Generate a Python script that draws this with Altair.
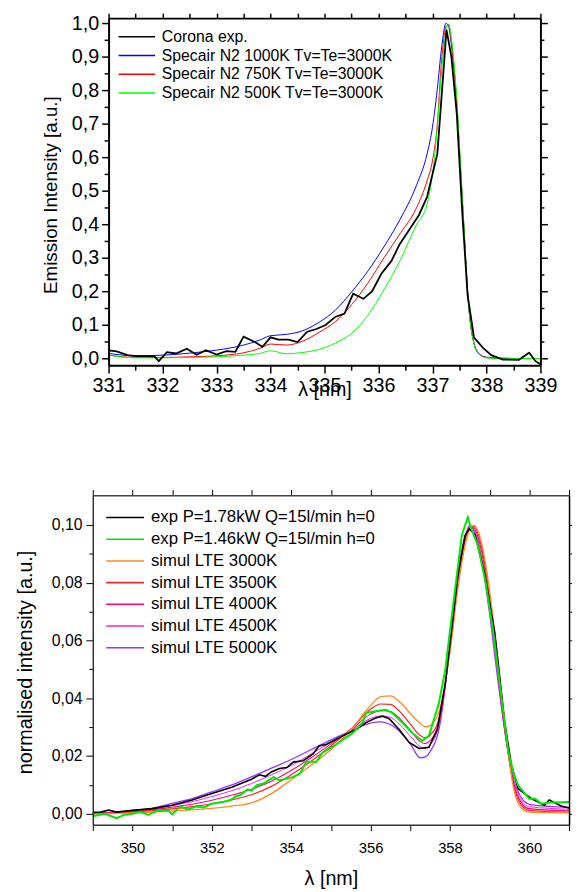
import altair as alt
import pandas as pd

FONT = "Liberation Sans"
W, H = 572, 884

# ---------------- top panel data ----------------
top_names = ["Corona exp.", "Specair N2 1000K Tv=Te=3000K",
             "Specair N2 750K Tv=Te=3000K", "Specair N2 500K Tv=Te=3000K"]
top_colors = ["#000000", "#0000ff", "#ff0000", "#00ff00"]
top_widths = [1.8, 1.0, 1.0, 1.0]

corona_x = [331.0, 331.15, 331.35, 331.5, 331.7, 331.85, 331.93, 332.08, 332.25, 332.45,
            332.63, 332.8, 333.0, 333.18, 333.35, 333.5, 333.7, 333.85, 334.0, 334.15,
            334.33, 334.5, 334.68, 334.85, 335.02, 335.2, 335.37, 335.53, 335.72, 335.88,
            336.05, 336.24, 336.39, 336.57, 336.75, 336.9, 337.09, 337.26, 337.35, 337.45,
            337.55, 337.65, 337.77, 337.94, 338.09, 338.3, 338.6, 338.79, 338.91, 339.0]
corona_y = [0.024, 0.021, 0.010, 0.007, 0.007, 0.006, -0.008, 0.019, 0.015, 0.029,
            0.011, 0.025, 0.012, 0.022, 0.020, 0.065, 0.050, 0.035, 0.063, 0.056,
            0.056, 0.049, 0.080, 0.088, 0.100, 0.124, 0.134, 0.193, 0.178, 0.200,
            0.252, 0.291, 0.340, 0.384, 0.428, 0.482, 0.610, 0.980, 0.900, 0.730,
            0.440, 0.190, 0.062, 0.031, 0.010, -0.003, -0.004, 0.017, -0.008, -0.017]

specair_x = [331.0, 331.5, 332.0, 332.5, 333.0, 333.5, 333.8, 334.0, 334.3, 334.6,
             334.9, 335.2, 335.5, 335.8, 336.1, 336.4, 336.7, 336.9, 337.0, 337.1,
             337.15, 337.2, 337.25, 337.3, 337.35, 337.4, 337.45, 337.5, 337.55, 337.6,
             337.65, 337.7, 337.75, 337.8, 337.9, 338.0, 338.2, 338.5, 339.0]
specair_1000 = [0.015, 0.008, 0.010, 0.016, 0.025, 0.040, 0.055, 0.068, 0.072, 0.083,
                0.108, 0.144, 0.198, 0.260, 0.333, 0.415, 0.515, 0.610, 0.690, 0.820,
                0.900, 0.965, 1.000, 0.990, 0.935, 0.860, 0.757, 0.620, 0.480, 0.340,
                0.200, 0.110, 0.060, 0.030, 0.010, 0.004, 0.001, 0.000, 0.000]
specair_750 = [0.010, 0.003, 0.003, 0.005, 0.008, 0.017, 0.030, 0.043, 0.040, 0.052,
               0.078, 0.110, 0.160, 0.224, 0.300, 0.372, 0.448, 0.530, 0.590, 0.720,
               0.850, 0.940, 0.990, 0.995, 0.945, 0.865, 0.762, 0.625, 0.482, 0.340,
               0.200, 0.110, 0.058, 0.028, 0.009, 0.003, 0.001, 0.000, 0.000]
specair_500 = [0.010, 0.002, 0.002, 0.003, 0.005, 0.010, 0.015, 0.023, 0.014, 0.018,
               0.027, 0.046, 0.075, 0.128, 0.205, 0.292, 0.398, 0.460, 0.550, 0.710,
               0.820, 0.910, 0.975, 0.998, 0.955, 0.880, 0.775, 0.635, 0.490, 0.345,
               0.200, 0.110, 0.058, 0.027, 0.008, 0.002, 0.000, 0.000, 0.000]

top_x_major = [331, 332, 333, 334, 335, 336, 337, 338, 339]
top_x_minor = [331.5, 332.5, 333.5, 334.5, 335.5, 336.5, 337.5, 338.5]
top_y_major = [0.0, 0.1, 0.2, 0.3, 0.4, 0.5, 0.6, 0.7, 0.8, 0.9, 1.0]
top_y_minor = [0.05, 0.15, 0.25, 0.35, 0.45, 0.55, 0.65, 0.75, 0.85, 0.95]

# ---------------- bottom panel data ----------------
bot_names = ["exp P=1.78kW Q=15l/min h=0", "exp P=1.46kW Q=15l/min h=0",
             "simul LTE 3000K", "simul LTE 3500K", "simul LTE 4000K",
             "simul LTE 4500K", "simul LTE 5000K"]
bot_colors = ["#000000", "#00e800", "#ff8a1e", "#f02828", "#ff0080", "#ee22ee", "#9933ff"]
bot_widths = [1.6, 2.0, 1.3, 1.2, 1.1, 1.0, 1.3]

exp178_x = [349.0, 349.2, 349.4, 349.6, 349.8, 350.0, 350.5, 351.0, 351.5, 352.0,
            352.5, 353.0, 353.2, 353.35, 353.5, 353.7, 353.89, 354.05, 354.3, 354.55,
            354.7, 354.88, 355.13, 355.38, 355.63, 355.88, 356.13, 356.3, 356.47, 356.72,
            356.97, 357.22, 357.47, 357.68, 357.88, 358.05, 358.2, 358.38, 358.49, 358.63,
            358.88, 359.13, 359.38, 359.55, 359.72, 360.05, 360.38, 360.5, 360.8, 361.0]
exp178_y = [0.0005, 0.0006, 0.0013, 0.0006, 0.0009, 0.0012, 0.0018, 0.0030, 0.0048, 0.0070,
            0.0092, 0.0120, 0.0135, 0.0130, 0.0145, 0.0157, 0.0160, 0.0179, 0.0184, 0.0207,
            0.0235, 0.0240, 0.0258, 0.0275, 0.0292, 0.0315, 0.0332, 0.0338, 0.0329, 0.0292,
            0.0247, 0.0226, 0.0230, 0.0292, 0.0450, 0.0645, 0.0827, 0.0963, 0.0986, 0.0966,
            0.0827, 0.0625, 0.0315, 0.0167, 0.0087, 0.0053, 0.0030, 0.0048, 0.0027, 0.0020]

exp146_x = [349.0, 349.3, 349.6, 349.8, 350.0, 350.2, 350.4, 350.6, 350.9, 351.0,
            351.2, 351.4, 351.6, 351.8, 352.0, 352.3, 352.47, 352.6, 352.72, 352.9,
            353.0, 353.13, 353.3, 353.55, 353.7, 353.89, 354.05, 354.22, 354.38, 354.63,
            354.8, 355.13, 355.55, 355.8, 355.88, 356.13, 356.38, 356.55, 356.8, 357.05,
            357.3, 357.47, 357.72, 357.88, 358.05, 358.3, 358.45, 358.51, 358.7, 358.9,
            359.1, 359.3, 359.47, 359.6, 359.72, 360.0, 360.15, 360.3, 360.55, 360.8, 361.0]
exp146_y = [-0.0008, 0.0000, -0.0015, -0.0003, 0.0000, 0.0007, -0.0004, 0.0010, 0.0012, -0.0002,
            0.0025, 0.0015, 0.0025, 0.0022, 0.0035, 0.0042, 0.0048, 0.0060, 0.0065, 0.0085,
            0.0080, 0.0099, 0.0105, 0.0127, 0.0116, 0.0122, 0.0128, 0.0139, 0.0180, 0.0180,
            0.0213, 0.0240, 0.0280, 0.0315, 0.0349, 0.0355, 0.0360, 0.0349, 0.0315, 0.0280,
            0.0253, 0.0270, 0.0383, 0.0497, 0.0690, 0.0966, 0.1026, 0.0997, 0.0930, 0.0800,
            0.0620, 0.0400, 0.0215, 0.0140, 0.0098, 0.0052, 0.0052, 0.0035, 0.0039, 0.0040, 0.0041]

sim_x = [349.0, 349.5, 350.0, 350.5, 351.0, 351.5, 352.0, 352.5, 353.0, 353.5,
         354.0, 354.5, 355.0, 355.5, 356.0, 356.25, 356.5, 356.75, 357.0, 357.25,
         357.375, 357.5, 357.75, 358.0, 358.2, 358.4, 358.5, 358.6, 358.8, 359.0,
         359.2, 359.4, 359.6, 359.8, 360.0, 360.5, 361.0]
sim_3000 = [0.0000, 0.0001, 0.0003, 0.0006, 0.0010, 0.0014, 0.0019, 0.0027, 0.0038, 0.0070,
            0.0118, 0.0168, 0.0222, 0.0290, 0.0375, 0.0405, 0.0408, 0.0385, 0.0347, 0.0313,
            0.0301, 0.0305, 0.0365, 0.0560, 0.0780, 0.0940, 0.0985, 0.0998, 0.0935, 0.0770,
            0.0540, 0.0290, 0.0090, 0.0020, 0.0006, 0.0004, 0.0003]
sim_3500 = [0.0001, 0.0003, 0.0006, 0.0011, 0.0017, 0.0025, 0.0035, 0.0048, 0.0066, 0.0095,
            0.0135, 0.0182, 0.0235, 0.0293, 0.0362, 0.0380, 0.0379, 0.0352, 0.0311, 0.0271,
            0.0263, 0.0272, 0.0342, 0.0570, 0.0800, 0.0955, 0.0990, 0.0995, 0.0920, 0.0750,
            0.0520, 0.0280, 0.0100, 0.0030, 0.0012, 0.0008, 0.0006]
sim_4000 = [0.0001, 0.0004, 0.0008, 0.0014, 0.0023, 0.0033, 0.0047, 0.0064, 0.0085, 0.0113,
            0.0150, 0.0194, 0.0242, 0.0290, 0.0345, 0.0358, 0.0354, 0.0328, 0.0289, 0.0250,
            0.0243, 0.0253, 0.0332, 0.0575, 0.0810, 0.0960, 0.0995, 0.0990, 0.0905, 0.0730,
            0.0500, 0.0272, 0.0108, 0.0038, 0.0018, 0.0013, 0.0011]
sim_4500 = [0.0002, 0.0005, 0.0010, 0.0017, 0.0029, 0.0042, 0.0060, 0.0080, 0.0105, 0.0135,
            0.0167, 0.0207, 0.0248, 0.0288, 0.0330, 0.0339, 0.0334, 0.0307, 0.0269, 0.0232,
            0.0225, 0.0238, 0.0322, 0.0580, 0.0820, 0.0965, 0.0998, 0.0985, 0.0890, 0.0710,
            0.0485, 0.0270, 0.0115, 0.0046, 0.0025, 0.0019, 0.0016]
sim_5000 = [0.0002, 0.0006, 0.0012, 0.0020, 0.0036, 0.0053, 0.0076, 0.0100, 0.0128, 0.0158,
            0.0188, 0.0222, 0.0256, 0.0286, 0.0314, 0.0318, 0.0309, 0.0282, 0.0242, 0.0194,
            0.0197, 0.0215, 0.0312, 0.0585, 0.0830, 0.0970, 0.0998, 0.0980, 0.0875, 0.0690,
            0.0470, 0.0268, 0.0122, 0.0055, 0.0033, 0.0026, 0.0022]

bot_x_ticks = [349, 350, 351, 352, 353, 354, 355, 356, 357, 358, 359, 360, 361]
bot_y_major = [0.0, 0.02, 0.04, 0.06, 0.08, 0.10]
bot_y_minor = [0.01, 0.03, 0.05, 0.07, 0.09]

# ---------------- layout (pixel geometry of the two panels) ----------------
TX_DOM, TX_RNG = [331, 339], [102, 540]
TY_DOM, TY_RNG = [-0.02, 1.015], [356, 4]
BX_DOM, BX_RNG = [349, 361], [86, 569]
BY_DOM, BY_RNG = [-0.00375, 0.1102], [822, 488]


def long_df(series_list, names, widths):
    frames = []
    for (xs, ys, name) in series_list:
        w = widths[names.index(name)]
        frames.append(pd.DataFrame({"x": xs, "y": ys, "series": name, "w": w}))
    return pd.concat(frames, ignore_index=True)


top_sim_df = long_df([
    (specair_x, specair_1000, top_names[1]),
    (specair_x, specair_750, top_names[2]),
    (specair_x, specair_500, top_names[3]),
], top_names, top_widths)
top_exp_df = long_df([(corona_x, corona_y, top_names[0])], top_names, top_widths)

bot_sim_df = long_df([
    (sim_x, sim_5000, bot_names[6]),
    (sim_x, sim_4500, bot_names[5]),
    (sim_x, sim_4000, bot_names[4]),
    (sim_x, sim_3500, bot_names[3]),
    (sim_x, sim_3000, bot_names[2]),
], bot_names, bot_widths)
bot_exp_df = long_df([
    (exp178_x, exp178_y, bot_names[0]),
    (exp146_x, exp146_y, bot_names[1]),
], bot_names, bot_widths)

top_helper = pd.DataFrame({"x": TX_DOM, "y": [0.0, 1.0]})
bot_helper = pd.DataFrame({"x": BX_DOM, "y": [0.0, 0.1]})


def sc(dom, rng):
    return alt.Scale(domain=dom, range=rng, nice=False, zero=False)


def ax(**kw):
    base = dict(grid=False, tickColor="black", domainColor="black", labelColor="black",
                labelFont=FONT, titleFont=FONT, titleColor="black",
                titleFontWeight="normal", labelFlush=False, labelOverlap=False)
    base.update(kw)
    return alt.Axis(**base)


def helper(df, xdom, xrng, ydom, yrng, xaxis, yaxis):
    return alt.Chart(df).mark_point(opacity=0, size=1).encode(
        x=alt.X("x:Q", scale=sc(xdom, xrng), axis=xaxis),
        y=alt.Y("y:Q", scale=sc(ydom, yrng), axis=yaxis),
    )


comma1 = "replace(format(datum.value, '.1f'), '.', ',')"
comma2 = "replace(format(datum.value, '.2f'), '.', ',')"

top_legend = alt.Legend(orient="none", legendX=135, legendY=15, title=None,
                        symbolType="M-5,0H1", symbolSize=152, symbolStrokeWidth=1.5,
                        labelFont=FONT, labelFontSize=16, labelColor="black",
                        labelOffset=5, rowPadding=3, padding=0, labelLimit=400)
bot_legend = alt.Legend(orient="none", legendX=123, legendY=502, title=None,
                        symbolType="M-5,0H1", symbolSize=163, symbolStrokeWidth=1.6,
                        labelFont=FONT, labelFontSize=17, labelColor="black",
                        labelOffset=5, rowPadding=4, padding=0, labelLimit=400)

# ---------------- top panel ----------------
top_sims = alt.Chart(top_sim_df).mark_line(interpolate="monotone").encode(
    x=alt.X("x:Q", scale=sc(TX_DOM, TX_RNG), axis=None),
    y=alt.Y("y:Q", scale=sc(TY_DOM, TY_RNG), axis=None),
    color=alt.Color("series:N", scale=alt.Scale(domain=top_names, range=top_colors),
                    legend=None),
    strokeWidth=alt.StrokeWidth("w:Q", scale=None, legend=None),
)

top_exp = alt.Chart(top_exp_df).mark_line().encode(
    x=alt.X("x:Q", scale=sc(TX_DOM, TX_RNG),
            axis=ax(orient="bottom", offset=356 - H, values=top_x_major, format="d",
                    tickSize=8, tickWidth=1.5, domainWidth=2, labelFontSize=20,
                    labelPadding=3, title="λ [nm]", titleFontSize=20, titleY=31,
                    titleBaseline="alphabetic", zindex=1)),
    y=alt.Y("y:Q", scale=sc(TY_DOM, TY_RNG),
            axis=ax(orient="left", offset=-102, values=top_y_major, labelExpr=comma1,
                    tickSize=7, tickWidth=1.5, domainWidth=2, labelFontSize=20,
                    labelPadding=3, title="Emission Intensity [a.u.]", titleFontSize=19,
                    titleX=-59, titleY=183, titleBaseline="middle", zindex=1)),
    color=alt.Color("series:N", scale=alt.Scale(domain=top_names, range=top_colors),
                    legend=top_legend),
    strokeWidth=alt.StrokeWidth("w:Q", scale=None, legend=None),
)

top_h1 = helper(top_helper, TX_DOM, TX_RNG, TY_DOM, TY_RNG,
                ax(orient="bottom", offset=356 - H, values=top_x_minor, labels=False,
                   domain=False, tickSize=5, tickWidth=1.5, title=None),
                ax(orient="left", offset=-102, values=top_y_minor, labels=False,
                   domain=False, tickSize=4.5, tickWidth=1.5, title=None))
top_h2 = helper(top_helper, TX_DOM, TX_RNG, TY_DOM, TY_RNG,
                ax(orient="top", offset=-4, values=top_x_major + top_x_minor, labels=False,
                   domainWidth=2, tickSize=5, tickWidth=1.5, title=None, zindex=1),
                ax(orient="right", offset=540 - W, values=top_y_major, labels=False,
                   domainWidth=2, tickSize=7, tickWidth=1.5, title=None, zindex=1))
top_h3 = helper(top_helper, TX_DOM, TX_RNG, TY_DOM, TY_RNG,
                None,
                ax(orient="right", offset=540 - W, values=top_y_minor, labels=False,
                   domain=False, tickSize=3.5, tickWidth=1.5, title=None))

# ---------------- bottom panel ----------------
bot_sims = alt.Chart(bot_sim_df).mark_line(interpolate="monotone").encode(
    x=alt.X("x:Q", scale=sc(BX_DOM, BX_RNG), axis=None),
    y=alt.Y("y:Q", scale=sc(BY_DOM, BY_RNG), axis=None),
    color=alt.Color("series:N", scale=alt.Scale(domain=bot_names, range=bot_colors),
                    legend=None),
    strokeWidth=alt.StrokeWidth("w:Q", scale=None, legend=None),
)

bot_exp = alt.Chart(bot_exp_df).mark_line().encode(
    x=alt.X("x:Q", scale=sc(BX_DOM, BX_RNG),
            axis=ax(orient="bottom", offset=822 - H, values=bot_x_ticks,
                    labelExpr="datum.value % 2 === 0 ? format(datum.value, 'd') : ''",
                    tickSize=6, tickWidth=1, domainWidth=1.5, domainColor="#333333",
                    labelFontSize=15, labelPadding=10, title="λ [nm]", titleFontSize=20,
                    titleY=61, titleBaseline="alphabetic", zindex=1)),
    y=alt.Y("y:Q", scale=sc(BY_DOM, BY_RNG),
            axis=ax(orient="left", offset=-86, values=bot_y_major, labelExpr=comma2,
                    tickSize=7, tickWidth=1, domainWidth=1.5, domainColor="#333333",
                    labelFontSize=16, labelPadding=4,
                    title="normalised intensity [a.u.]", titleFontSize=20,
                    titleX=-68, titleY=657, titleBaseline="middle", zindex=1)),
    color=alt.Color("series:N", scale=alt.Scale(domain=bot_names, range=bot_colors),
                    legend=bot_legend),
    strokeWidth=alt.StrokeWidth("w:Q", scale=None, legend=None),
)

bot_h1 = helper(bot_helper, BX_DOM, BX_RNG, BY_DOM, BY_RNG,
                None,
                ax(orient="left", offset=-86, values=bot_y_minor, labels=False,
                   domain=False, tickSize=4, tickWidth=1, title=None))
bot_h2 = helper(bot_helper, BX_DOM, BX_RNG, BY_DOM, BY_RNG,
                ax(orient="top", offset=-488, values=bot_x_ticks, labels=False,
                   domainWidth=1.5, domainColor="#444444", tickSize=6, tickWidth=1,
                   title=None, zindex=1),
                ax(orient="right", offset=569 - W, values=bot_y_major + bot_y_minor,
                   labels=False, domainWidth=1.5, tickSize=3, tickWidth=1, title=None,
                   zindex=1))

chart = alt.layer(top_sims, top_exp, top_h1, top_h2, top_h3,
                  bot_sims, bot_exp, bot_h1, bot_h2).resolve_scale(
    x="independent", y="independent", color="independent"
).properties(
    width=W, height=H, autosize=alt.AutoSizeParams(type="none"), padding=0
).configure_view(stroke=None)

chart.save("out.html", embed_options={"renderer": "svg", "actions": False})
